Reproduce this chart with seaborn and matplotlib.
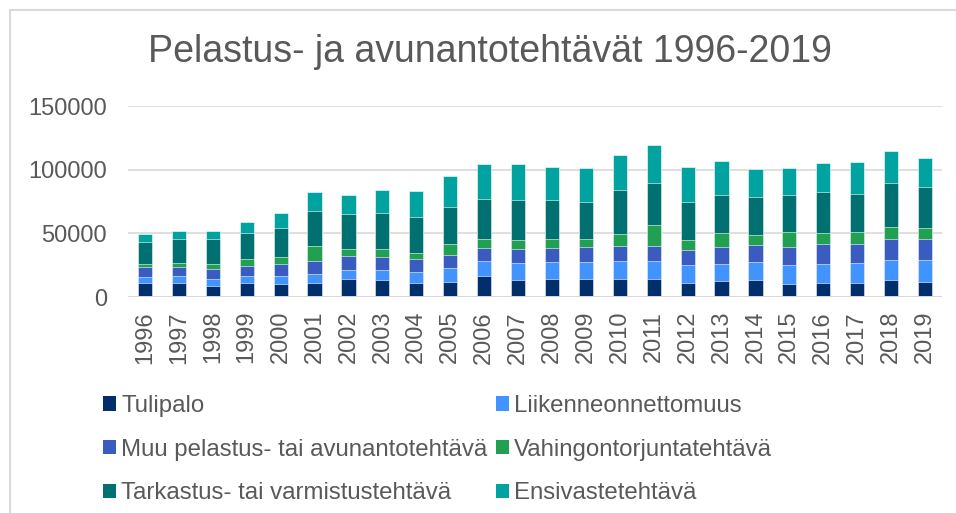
import numpy as np
import pandas as pd
import matplotlib
matplotlib.use("Agg")
import matplotlib.pyplot as plt
from matplotlib.patches import Patch
from matplotlib.lines import Line2D
import seaborn as sns

# --- data ---
years = [str(y) for y in range(1996, 2020)]
tulipalo = [10800, 11300, 8900, 11300, 10200, 10800, 14400, 13100, 10800, 12000, 16800, 13600,
            13900, 14400, 14400, 13900, 11000, 12800, 13100, 10500, 11300, 11000, 13600, 11800]
liikenne = [5200, 5200, 5200, 5500, 6000, 7100, 6800, 7900, 8700, 10800, 11500, 13100,
            13400, 13100, 13900, 14400, 14400, 13100, 14400, 14500, 15000, 15700, 15300, 17300]
muu = [7400, 7100, 7600, 7900, 9900, 10700, 11300, 10200, 10200, 10500, 10500, 10800,
       11000, 12000, 12000, 12000, 11800, 13100, 13400, 14200, 15000, 15200, 16800, 16800]
vahingon = [2600, 3400, 3900, 5200, 5200, 11500, 5200, 6300, 5000, 8200, 6600, 7300,
            7100, 5800, 9200, 16500, 7600, 11000, 7600, 11500, 9000, 9000, 9400, 8400]
tarkastus = [17500, 18400, 19700, 20700, 22800, 27800, 27800, 28800, 27800, 28800, 31200, 31700,
             30400, 29600, 34600, 33100, 30100, 29900, 30400, 29100, 32000, 29900, 34100, 32000]
ensivaste = [5800, 6600, 6800, 8100, 11500, 14200, 14900, 17800, 20500, 24400, 28100, 28100,
             26300, 26800, 27300, 29400, 27300, 27000, 21800, 21600, 23100, 24900, 25500, 23100]

series = ["Tulipalo", "Liikenneonnettomuus", "Muu pelastus- tai avunantotehtävä",
          "Vahingontorjuntatehtävä", "Tarkastus- tai varmistustehtävä", "Ensivastetehtävä"]
colors = ["#002F6C", "#4193FF", "#3A5BC0", "#22A052", "#007070", "#00A39F"]

df = pd.DataFrame({"Vuosi": years, series[0]: tulipalo, series[1]: liikenne, series[2]: muu,
                   series[3]: vahingon, series[4]: tarkastus, series[5]: ensivaste})

sns.set_theme(style="white")
plt.rcParams["font.family"] = ["Liberation Sans", "DejaVu Sans"]
txt = "#595959"

fig = plt.figure(figsize=(9.56, 5.13), dpi=100)
ax = fig.add_axes([128 / 956, 1 - 297 / 513, 814 / 956, 191 / 513])

# stacked bars: draw cumulative totals from the top layer down
cum = df[series].cumsum(axis=1)
for name, col in reversed(list(zip(series, colors))):
    sns.barplot(x=df["Vuosi"], y=cum[name], color=col, saturation=1, width=0.42,
                edgecolor="white", linewidth=0.4, ax=ax, zorder=3)

ax.set_ylim(0, 150000)
ax.set_xlim(-0.5, len(years) - 0.5)
ax.set_yticks([0, 50000, 100000, 150000])
ax.set_yticklabels(["0", "50000", "100000", "150000"])
ax.grid(axis="y", color="#d9d9d9", linewidth=1.2, zorder=0)
ax.axhline(0, color="#d9d9d9", linewidth=1.4, zorder=4)
for s in ax.spines.values():
    s.set_visible(False)
ax.set_xlabel("")
ax.set_ylabel("")
ax.tick_params(axis="y", length=0, pad=15, labelsize=17, labelcolor=txt)
ax.tick_params(axis="x", length=0, pad=10, labelsize=17, labelcolor=txt, rotation=90)

fig.text(490 / 956, 1 - 52 / 513, "Pelastus- ja avunantotehtävät 1996-2019",
         ha="center", va="center", fontsize=27, color=txt)

# legend (row-wise order in two columns)
order = [0, 2, 4, 1, 3, 5]
handles = [Patch(facecolor=colors[i], edgecolor="none", label=series[i]) for i in order]
fig.legend(handles=handles, ncol=2, loc="upper left", bbox_to_anchor=(103 / 956, 1 - 395 / 513),
           frameon=False, fontsize=17.3, labelcolor=txt, handlelength=0.55, handleheight=0.55,
           handletextpad=0.2, columnspacing=0.35, labelspacing=0.9, borderpad=0, borderaxespad=0)

# chart area border (left and top edges visible)
fig.add_artist(Line2D([10 / 956, 10 / 956], [0, 1 - 10 / 513], transform=fig.transFigure,
                      color="#d9d9d9", linewidth=1.5))
fig.add_artist(Line2D([10 / 956, 1], [1 - 10 / 513, 1 - 10 / 513], transform=fig.transFigure,
                      color="#d9d9d9", linewidth=1.5))

fig.savefig("out.png", dpi=100)
